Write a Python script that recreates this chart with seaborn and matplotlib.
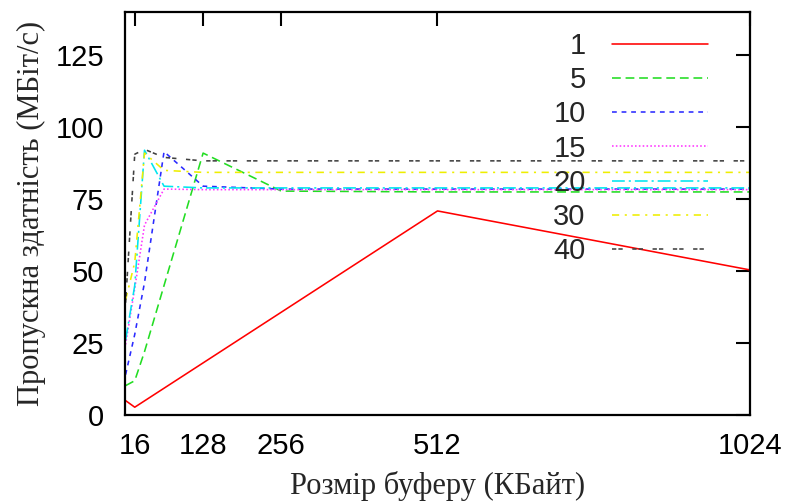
import pandas as pd
import seaborn as sns
import matplotlib.pyplot as plt

# розмір буферу, КБайт
buffer_kb = [1, 16, 32, 64, 128, 256, 512, 1024]

# пропускна здатність (МБіт/с) для різної кількості потоків
thr_1 = [5.0, 2.7, 4.9, 9.3, 18.1, 35.7, 70.9, 50.4]
thr_5 = [10.2, 11.9, 22.0, 45.0, 91.0, 77.8, 77.5, 77.5]
thr_10 = [14.0, 28.0, 46.0, 91.5, 79.5, 78.5, 78.5, 78.5]
thr_15 = [24.5, 44.0, 66.0, 78.5, 78.3, 78.3, 78.3, 78.3]
thr_20 = [26.0, 45.0, 92.0, 79.5, 78.9, 78.9, 78.9, 78.9]
thr_30 = [40.0, 53.0, 91.0, 85.0, 84.3, 84.3, 84.3, 84.3]
thr_40 = [39.0, 90.6, 92.3, 89.5, 88.3, 88.3, 88.3, 88.3]

series_names = ['1', '5', '10', '15', '20', '30', '40']
series_vals = [thr_1, thr_5, thr_10, thr_15, thr_20, thr_30, thr_40]

x_ticks = [16, 128, 256, 512, 1024]
y_ticks = [0, 25, 50, 75, 100, 125]

colors = {'1': '#ff0000', '5': '#22dd22', '10': '#2a2aff', '15': '#ff33ff',
          '20': '#00e5ee', '30': '#eeee00', '40': '#404040'}
dashes = {'1': '', '5': (5.5, 3), '10': (3, 3), '15': (1, 1.4),
          '20': (8, 2.5, 1.3, 2.5), '30': (4.5, 3.5, 1.3, 3.5), '40': (2.7, 1.3, 2.7, 6)}

rows = []
for name, vals in zip(series_names, series_vals):
    for x, v in zip(buffer_kb, vals):
        rows.append({'buf': x, 'thr': v, 'n': name})
df = pd.DataFrame(rows)

sns.set_style('white')
plt.rcParams['font.family'] = ['Liberation Sans', 'DejaVu Sans']

fig = plt.figure(figsize=(7.93, 5.03), dpi=100)
ax = fig.add_axes([0.1576, 0.175, 0.7882, 0.801])

sns.lineplot(data=df, x='buf', y='thr', hue='n', style='n', hue_order=series_names,
             style_order=series_names, palette=colors, dashes=dashes,
             linewidth=1.15, ax=ax, legend=True)

ax.set_xlim(0, 1024)
ax.set_ylim(0, 140)
ax.set_xticks(x_ticks)
ax.set_yticks(y_ticks)
ax.tick_params(direction='in', length=10, width=1.5, labelsize=21,
               top=True, right=True, colors='black')
ax.tick_params(axis='y', pad=15)
ax.tick_params(axis='x', pad=12)
for s in ax.spines.values():
    s.set_linewidth(1.6)
    s.set_color('black')

ax.set_xlabel('Розмір буферу (КБайт)', family='Liberation Serif', fontsize=22, labelpad=8)
ax.set_ylabel('Пропускна здатність (МБіт/с)', family='Liberation Serif', fontsize=22, labelpad=7)

handles, labels = ax.get_legend_handles_labels()
ax.legend(handles, labels, loc='upper right', bbox_to_anchor=(0.933, 0.95),
          frameon=False, markerfirst=False, fontsize=21, handlelength=3.3,
          handletextpad=0.9, labelspacing=0.21, borderpad=0, borderaxespad=0)

fig.savefig('out.png', dpi=100)
